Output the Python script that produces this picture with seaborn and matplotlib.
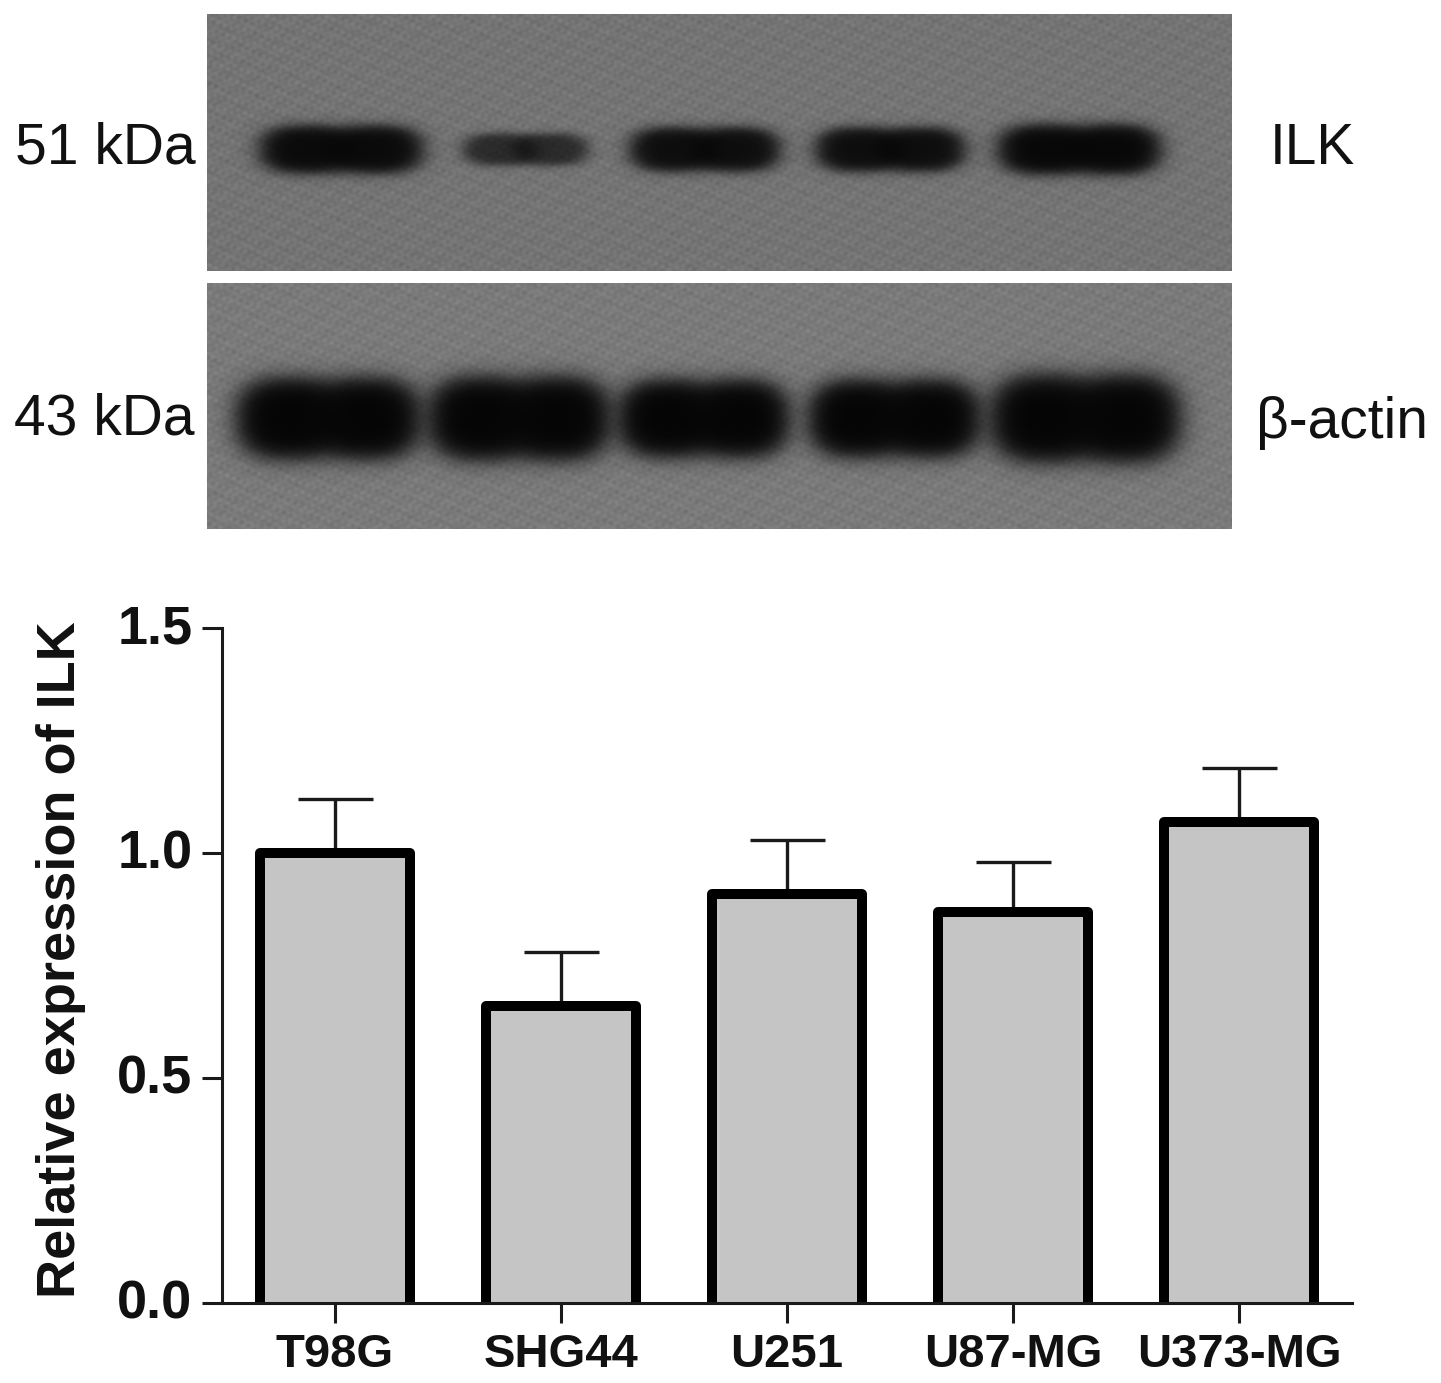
#!/usr/bin/env python
import matplotlib
matplotlib.use('Agg')
import seaborn as sns
import numpy as np
import matplotlib.pyplot as plt
from matplotlib.transforms import ScaledTranslation

cell_lines = ["T98G", "SHG44", "U251", "U87-MG", "U373-MG"]
means = [1.00, 0.66, 0.91, 0.87, 1.07]
errs = [0.12, 0.12, 0.12, 0.11, 0.12]
y_ticks = [0.0, 0.5, 1.0, 1.5]

# blot bands in picture pixels: left edge, right edge, strength
ilk_left = [260, 463, 630, 816, 998]
ilk_right = [422, 587, 779, 964, 1160]
ilk_dark = [0.95, 0.66, 0.92, 0.92, 0.97]
ilk_half_h = [24, 16, 22, 22, 25]
actin_left = [236, 428, 618, 808, 990]
actin_right = [420, 610, 789, 980, 1180]
actin_dark = [1.0, 1.0, 1.0, 1.0, 1.0]
actin_half_h = [41, 42, 39, 39, 44]

W, H = 1441, 1383


def px_axes(fig, x0, y0, x1, y1):
    return fig.add_axes([x0 / W, 1 - y1 / H, (x1 - x0) / W, (y1 - y0) / H])


def blot_image(x0, y0, x1, y1, yc, lefts, rights, darks, half_hs, base):
    xx, yy = np.meshgrid(np.arange(x0, x1), np.arange(y0, y1))
    # film grain look, waves at unrelated angles so no stripes show
    grain = np.zeros(xx.shape)
    for fx, fy in [(0.83, 0.37), (-0.53, 0.91), (0.31, -0.71), (0.97, -0.23),
                   (0.19, 0.29), (-0.11, 0.43), (0.61, 0.67), (0.41, 1.13)]:
        grain += np.sin(xx * fx + yy * fy + fx * 17)
    img = base + 1.8 * grain
    light = np.ones(img.shape)
    for l, r, d, hh in zip(lefts, rights, darks, half_hs):
        hw = (r - l) / 2.0
        for shift in (-0.42, 0.42):
            cx = (l + r) / 2.0 + shift * hw
            rr = ((np.abs(xx - cx) / (hw * 0.58)) ** 2.5 + (np.abs(yy - yc) / hh) ** 2.5) ** (1 / 2.5)
            light *= 1 - d / (1 + np.exp((rr - 1.0) / 0.14))
    img = img * light + 5 * (1 - light)
    return img


def main():
    sns.set_theme(style="ticks")
    plt.rcParams['font.family'] = ['Liberation Sans', 'DejaVu Sans']

    fig = plt.figure(figsize=(W / 100, H / 100), dpi=100)

    for (x0, y0, x1, y1, yc, l, r, d, hh, base) in [
        (207, 14, 1232, 271, 149, ilk_left, ilk_right, ilk_dark, ilk_half_h, 116),
        (207, 283, 1232, 529, 418, actin_left, actin_right, actin_dark, actin_half_h, 122),
    ]:
        ax_blot = px_axes(fig, x0, y0, x1, y1)
        ax_blot.imshow(blot_image(x0, y0, x1, y1, yc, l, r, d, hh, base), cmap="gray",
                       vmin=0, vmax=255, aspect="auto", interpolation="bilinear")
        ax_blot.axis("off")

    fig.text(105 / W, 1 - 148 / H, "51 kDa", fontsize=41, ha="center", va="center", color="#111111")
    fig.text(104 / W, 1 - 420 / H, "43 kDa", fontsize=41, ha="center", va="center", color="#111111")
    fig.text(1312 / W, 1 - 149 / H, "ILK", fontsize=41, ha="center", va="center", color="#111111")
    fig.text(1342 / W, 1 - 423 / H, "\u03b2-actin", fontsize=41, ha="center", va="center", color="#111111")

    ax = px_axes(fig, 222, 628, 1352, 1303)
    sns.barplot(x=cell_lines, y=means, color="#c5c5c5", saturation=1, edgecolor="black",
                linewidth=7.2, width=0.665, errorbar=None, ax=ax)
    for bar in ax.patches:
        # push the lower edge under the axis, the bars have no visible bottom stroke
        top = bar.get_height()
        bar.set_y(-0.05)
        bar.set_height(top + 0.05)
        bar.set_joinstyle("round")
    ax.errorbar(range(len(means)), means, yerr=[np.zeros(len(errs)), errs], fmt="none",
                ecolor="#1a1a1a", elinewidth=2.4, capsize=27, capthick=2.4, zorder=0.5)

    ax.set_xlim(-0.5, 4.5)
    ax.set_ylim(0, 1.5)
    ax.set_yticks(y_ticks)
    ax.set_yticklabels(["%.1f" % t for t in y_ticks], fontsize=39, fontweight="bold", color="#111111")
    ax.tick_params(axis="y", length=14.4, width=2.2, pad=7, color="#1a1a1a")
    ax.tick_params(axis="x", length=14.4, width=2.2, pad=7, color="#1a1a1a", labelsize=34)
    up = ScaledTranslation(0, 4 / 100, fig.dpi_scale_trans)
    for lab in ax.get_yticklabels():
        lab.set_transform(lab.get_transform() + up)
    for lab in ax.get_xticklabels():
        lab.set_fontweight("bold")
        lab.set_color("#111111")
    for side in ["top", "right"]:
        ax.spines[side].set_visible(False)
    for side in ["left", "bottom"]:
        ax.spines[side].set_linewidth(2.2)
        ax.spines[side].set_color("#1a1a1a")
        ax.spines[side].set_zorder(5)

    fig.text(61 / W, 1 - 960 / H, "Relative expression of ILK", fontsize=39, fontweight="bold",
             rotation=90, ha="center", va="center", color="#111111")

    plt.savefig("out.png", dpi=100)
    plt.close()


if __name__ == "__main__":
    main()
